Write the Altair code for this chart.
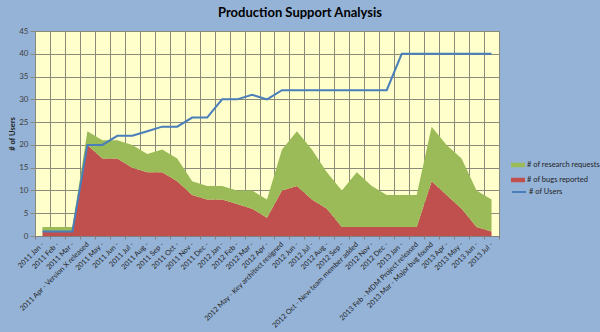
import altair as alt
import pandas as pd

months = ["2011 Jan -", "2011 Feb -", "2011 Mar -", "2011 Apr - Version X released",
          "2011 May -", "2011 Jun -", "2011 Jul -", "2011 Aug -", "2011 Sep -",
          "2011 Oct -", "2011 Nov -", "2011 Dec -", "2012 Jan -", "2012 Feb -",
          "2012 Mar -", "2012 Apr -", "2012 May - Key architect resigned",
          "2012 Jun -", "2012 Jul -", "2012 Aug -", "2012 Sep -",
          "2012 Oct - New team member added", "2012 Nov -", "2012 Dec -",
          "2013 Jan -", "2013 Feb - MDM Project released",
          "2013 Mar - Major bug found", "2013 Apr -", "2013 May -",
          "2013 Jun -", "2013 Jul -"]
bugs = [1, 1, 1, 20, 17, 17, 15, 14, 14, 12, 9, 8, 8, 7, 6, 4, 10, 11, 8, 6,
        2, 2, 2, 2, 2, 2, 12, 9, 6, 2, 1]
research = [1, 1, 1, 3, 4, 4, 5, 4, 5, 5, 3, 3, 3, 3, 4, 4, 9, 12, 11, 8,
            8, 12, 9, 7, 7, 7, 12, 11, 11, 8, 7]
users = [1, 1, 1, 20, 20, 22, 22, 23, 24, 24, 26, 26, 30, 30, 31, 30, 32, 32,
         32, 32, 32, 32, 32, 32, 40, 40, 40, 40, 40, 40, 40]
y_ticks = [0, 5, 10, 15, 20, 25, 30, 35, 40, 45]

S_RES = "# of research requests"
S_BUG = "# of bugs reported"
S_USR = "# of Users"

FONT = "Lato"
GRID = "#8a8a7a"

area_rows = []
for m, b, r in zip(months, bugs, research):
    area_rows.append({"month": m, "series": S_BUG, "value": b, "ord": 0})
    area_rows.append({"month": m, "series": S_RES, "value": r, "ord": 1})
area_df = pd.DataFrame(area_rows)
line_df = pd.DataFrame({"month": months, "users": users, "s": [S_USR] * len(months)})

xscale = alt.Scale(type="band", domain=months, paddingInner=0, paddingOuter=0)
xaxis = alt.Axis(title=None, labelAngle=-45, labelAlign="right", labelBaseline="middle",
                 labelFontSize=7.2, labelFont=FONT, labelColor="#1f1f1f", labelPadding=4,
                 tickBand="extent", grid=True, gridColor=GRID, gridOpacity=1,
                 domainColor="#7f7f7f", tickColor="#7f7f7f", tickSize=3,
                 labelOverlap=False, labelBound=False)
yscale = alt.Scale(domain=[0, 45], nice=False, zero=True)
yaxis = alt.Axis(title="# of Users", titleFontSize=7.5, titleFont=FONT, titleFontWeight="bold",
                 titleColor="#1f1f1f", values=y_ticks, labelFontSize=8, tickCount=10,
                 labelFont=FONT, labelColor="#404040", grid=True, gridColor=GRID,
                 gridOpacity=1, domain=False, ticks=True, tickSize=5, tickColor=GRID,
                 labelPadding=2, titlePadding=2, labelOverlap=False)

area = alt.Chart(area_df).mark_area(opacity=1).encode(
    x=alt.X("month:N", scale=xscale, axis=xaxis, bandPosition=0.5, sort=months),
    y=alt.Y("value:Q", stack="zero", scale=yscale, axis=yaxis),
    fill=alt.Fill("series:N", scale=alt.Scale(domain=[S_RES, S_BUG], range=["#9BBB59", "#C0504D"]),
                  legend=alt.Legend(title=None, orient="none", legendX=476, legendY=127,
                                    symbolType="M-1,-0.32H1V0.32H-1Z", symbolSize=196,
                                    symbolStrokeWidth=0, labelFontSize=7.5, labelFont=FONT,
                                    labelColor="#1f1f1f", labelOffset=2, rowPadding=4)),
    order=alt.Order("ord:Q"),
)

line = alt.Chart(line_df).mark_line(strokeWidth=2).encode(
    x=alt.X("month:N", scale=xscale, axis=xaxis, bandPosition=0.5, sort=months),
    y=alt.Y("users:Q", scale=yscale, axis=yaxis),
    stroke=alt.Stroke("s:N", scale=alt.Scale(domain=[S_USR], range=["#4A7EBB"]),
                      legend=alt.Legend(title=None, orient="none", legendX=476, legendY=153,
                                        symbolType="stroke", symbolSize=196,
                                        symbolStrokeWidth=2, labelFontSize=7.5, labelFont=FONT,
                                        labelColor="#1f1f1f", labelOffset=2)),
)

chart = alt.layer(area, line).properties(
    width=464, height=205,
    padding={"left": 35, "top": 31, "right": 101, "bottom": 96},
    autosize=alt.AutoSizeParams(type="none"),
    background="#95B3D7",
    title=alt.Title("Production Support Analysis", fontSize=13, fontWeight="bold",
                    font=FONT, color="#000000", anchor="middle", dx=33, offset=7),
).configure_view(fill="#FFFFCC", stroke="#7f7f7f")

chart.save("out.html", embed_options={"renderer": "svg", "actions": False})
